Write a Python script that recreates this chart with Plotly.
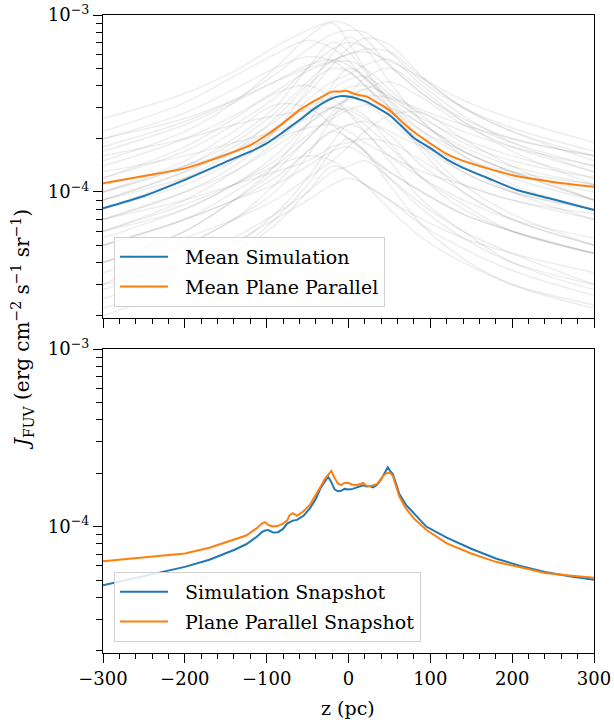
import plotly.graph_objects as go

# ---------------- data (J in units of 1e-5 erg cm^-2 s^-1 sr^-1) ----------------
UNIT = 1e-5

mean_z = [-300, -250, -200, -150, -120, -100, -80, -60, -40, -20, -10, -3, 5, 12, 22,
          35, 50, 65, 80, 100, 120, 140, 170, 205, 250, 300]
mean_sim = [8.1, 9.5, 11.7, 14.8, 16.9, 18.8, 21.8, 25.5, 30.0, 33.8, 34.8, 34.8, 34.3,
            33.5, 32.3, 30.0, 27.2, 23.5, 20.2, 17.7, 15.3, 13.7, 12.0, 10.3, 9.1, 7.9]
mean_pp = [11.2, 12.3, 13.6, 16.2, 18.4, 21.0, 24.5, 29.0, 33.0, 36.9, 37.0, 37.3, 36.2,
           35.3, 34.6, 32.0, 29.0, 25.0, 21.8, 18.8, 16.4, 15.0, 13.6, 12.3, 11.4, 10.7]

# individual sightlines (grey background curves)
grey_z = [-300, -200, -140, -90, -50, -20, 0, 20, 50, 90, 140, 200, 300]
g01 = [26, 36, 48, 66, 82, 92, 88, 74, 52, 36, 26, 20, 16]
g02 = [18, 25, 33, 46, 64, 78, 82, 80, 62, 42, 30, 23, 17]
g03 = [22, 32, 45, 60, 72, 65, 55, 44, 33, 24, 18, 14, 11]
g04 = [10, 14, 19, 28, 42, 55, 60, 64, 62, 44, 30, 22, 16]
g05 = [14, 20, 27, 37, 48, 54, 55, 50, 38, 27, 19, 15, 12]
g06 = [8, 12, 17, 26, 40, 50, 48, 40, 28, 19, 13, 10, 8]
g07 = [6, 9, 13, 19, 28, 38, 43, 45, 36, 25, 17, 13, 9]
g08 = [12, 18, 26, 36, 40, 34, 28, 22, 16, 12, 9, 7, 5.5]
g09 = [7, 10, 13, 18, 24, 30, 34, 38, 42, 34, 24, 18, 13]
g10 = [9, 13, 17, 23, 30, 34, 35, 32, 25, 18, 13, 10, 8]
g11 = [4, 6, 9, 13, 20, 27, 30, 27, 19, 12, 8, 6, 4.5]
g12 = [16, 20, 24, 27, 29, 30, 29, 26, 22, 18, 15, 13, 11]
g13 = [5, 7, 9, 12, 17, 22, 24, 25, 21, 14, 10, 7, 5]
g14 = [3, 5, 7, 11, 17, 22, 20, 17, 12, 8, 5.5, 4, 3]
g15 = [7, 9, 11, 13, 15, 18, 19, 20, 19, 15, 11, 9, 7]
g16 = [5, 7, 9, 11, 14, 17, 18, 16, 13, 10, 7.5, 6, 4.5]
g17 = [3, 4, 5.5, 7.5, 10, 13, 14, 15, 12, 8.5, 6, 4.5, 3]
g18 = [2.2, 3.2, 4.5, 6.5, 10, 14, 13, 11, 8, 5.5, 4, 3, 2.3]
g19 = [20, 28, 38, 50, 58, 55, 48, 40, 30, 22, 17, 13, 10]
g20 = [9, 13, 18, 25, 36, 52, 65, 74, 68, 45, 30, 22, 15]
g21 = [4, 5.5, 7, 9, 12, 15, 18, 22, 27, 28, 20, 14, 9]
g22 = [10, 15, 22, 31, 30, 24, 20, 17, 13, 10, 7.5, 6, 4.5]
g23 = [2.8, 4, 5.2, 7, 9, 11, 12, 11, 9, 6.5, 4.8, 3.6, 2.6]
g24 = [9, 12, 15, 20, 27, 35, 39, 40, 35, 29, 24, 20, 16]
g25 = [5, 7, 10, 14, 20, 28, 35, 44, 50, 38, 25, 17, 11]
g26 = [11, 14, 17, 20, 23, 24, 22, 19, 16, 13, 11, 9, 7.5]
g27 = [2, 3, 4.5, 7, 11, 17, 20, 17, 11, 6.5, 4.2, 3, 2.2]
g28 = [13, 16, 19, 22, 26, 30, 33, 35, 34, 28, 22, 18, 14]
g29 = [6, 8.5, 11, 14, 16, 15, 13, 11, 9, 7, 5.5, 4.5, 3.5]
g30 = [15, 22, 32, 50, 75, 90, 70, 50, 33, 22, 16, 12, 9]
g31 = [7, 10, 14, 22, 38, 60, 75, 65, 42, 25, 16, 11, 8]
g32 = [4, 6, 9, 14, 24, 40, 50, 45, 30, 17, 10, 7, 5]
g33 = [10, 14, 20, 30, 50, 70, 62, 48, 32, 20, 14, 10, 7]
g34 = [3.5, 5, 7, 10, 16, 26, 34, 38, 30, 18, 11, 7.5, 5]
g35 = [8, 11, 15, 22, 33, 42, 46, 52, 56, 40, 27, 19, 13]
g36 = [5.5, 8, 11, 16, 24, 30, 28, 24, 18, 12, 8.5, 6, 4.5]
g37 = [17, 24, 32, 42, 52, 56, 52, 44, 34, 26, 20, 16, 12]
g38 = [2.5, 3.5, 5, 7.5, 12, 19, 24, 22, 15, 9, 6, 4, 2.8]
g39 = [12, 17, 24, 34, 50, 64, 70, 66, 52, 36, 25, 19, 14]
g40 = [6, 8, 11, 15, 21, 26, 29, 31, 30, 24, 17, 13, 9]
g41 = [20, 26, 33, 42, 50, 55, 60, 62, 55, 44, 33, 26, 19]
grey_curves = [g01, g02, g03, g04, g05, g06, g07, g08, g09, g10, g11, g12, g13, g14, g15,
               g16, g17, g18, g19, g20, g21, g22, g23, g24, g25, g26, g27, g28, g29, g30,
               g31, g32, g33, g34, g35, g36, g37, g38, g39, g40, g41]

snap_z = [-300, -250, -200, -170, -140, -125, -112, -106, -102, -98, -92, -86, -80, -75,
          -72, -68, -63, -55, -47, -40, -34, -29, -25, -21, -17, -13, -9, -5, 0, 5, 10,
          14, 18, 22, 26, 30, 35, 40, 44, 48, 51, 54, 58, 62, 70, 80, 95, 120, 150, 180,
          210, 240, 270, 300]
snap_sim = [4.67, 5.25, 5.93, 6.5, 7.38, 7.95, 8.77, 9.3, 9.5, 9.55, 9.25, 9.3, 9.7, 10.4,
            10.6, 10.8, 10.9, 11.5, 12.7, 14.3, 16.5, 17.8, 19.1, 17.8, 16.2, 15.8, 15.9,
            16.3, 16.2, 16.3, 16.6, 17.0, 17.1, 16.8, 16.9, 16.6, 17.2, 18.5, 20.0, 21.6,
            20.5, 19.8, 17.5, 15.3, 13.3, 11.8, 10.0, 8.67, 7.5, 6.61, 6.0, 5.55, 5.25, 5.02]
snap_pp = [6.38, 6.7, 7.05, 7.6, 8.39, 8.9, 9.8, 10.4, 10.6, 10.2, 10.0, 10.1, 10.4, 10.8,
           11.6, 11.9, 11.5, 12.2, 13.3, 15.0, 16.8, 18.5, 19.6, 20.6, 18.8, 17.5, 17.1,
           17.6, 17.6, 17.2, 17.1, 17.3, 17.6, 17.0, 16.9, 17.1, 17.4, 18.6, 19.6, 20.1,
           20.0, 19.4, 17.0, 14.8, 12.7, 11.1, 9.6, 8.04, 7.05, 6.33, 5.9, 5.48, 5.3, 5.15]

major_y = [1e-4, 1e-3]
major_y_text = ["10<sup>−4</sup>", "10<sup>−3</sup>"]
minor_y = [m * 1e-5 for m in range(2, 10)] + [m * 1e-4 for m in range(2, 10)]
x_ticks = [-300, -200, -100, 0, 100, 200, 300]
x_tick_text = ["−300", "−200", "−100", "0", "100", "200", "300"]

# ---------------- figure ----------------
BLUE = "#1f77b4"
ORANGE = "#ff7f0e"
FONT = "DejaVu Serif"
PAD = "\u00a0\u00a0"

fig = go.Figure()

def scale(vals):
    return [v * UNIT for v in vals]

for g in grey_curves:
    fig.add_trace(go.Scatter(x=grey_z, y=scale(g), mode="lines",
                             line=dict(color="rgba(128,128,128,0.14)", width=1.5,
                                       shape="spline", smoothing=1.0),
                             showlegend=False, hoverinfo="skip", xaxis="x", yaxis="y"))

fig.add_trace(go.Scatter(x=mean_z, y=scale(mean_sim), mode="lines", name=PAD + "Mean Simulation",
                         line=dict(color=BLUE, width=2, shape="spline", smoothing=0.6),
                         xaxis="x", yaxis="y", legend="legend", legendgroup="a"))
fig.add_trace(go.Scatter(x=mean_z, y=scale(mean_pp), mode="lines", name=PAD + "Mean Plane Parallel",
                         line=dict(color=ORANGE, width=2, shape="spline", smoothing=0.6),
                         xaxis="x", yaxis="y", legend="legend", legendgroup="b"))

fig.add_trace(go.Scatter(x=snap_z, y=scale(snap_sim), mode="lines", name=PAD + "Simulation Snapshot",
                         line=dict(color=BLUE, width=2),
                         xaxis="x2", yaxis="y2", legend="legend2", legendgroup="c"))
fig.add_trace(go.Scatter(x=snap_z, y=scale(snap_pp), mode="lines", name=PAD + "Plane Parallel Snapshot",
                         line=dict(color=ORANGE, width=2),
                         xaxis="x2", yaxis="y2", legend="legend2", legendgroup="d"))

W, H = 614, 724
ML, MR, MT, MB = 103, 20, 15, 71
ph = H - MT - MB
pw = W - ML - MR

def ydom(top_px, bot_px):
    return [(H - MB - bot_px) / ph, (H - MB - top_px) / ph]

common_x = dict(range=[-300, 300], showline=True, linecolor="black", linewidth=1.2,
                mirror=True, ticks="outside", ticklen=9, tickwidth=1.2, tickcolor="black",
                tickvals=x_ticks, showgrid=False, zeroline=False, automargin=False,
                minor=dict(ticks="outside", ticklen=5, tickwidth=1, tickcolor="black",
                           dtick=20, tick0=0, showgrid=False))
common_y = dict(type="log", range=[-4.712, -3], showline=True, linecolor="black",
                linewidth=1.2, mirror=True, ticks="outside", ticklen=9, tickwidth=1.2,
                tickcolor="black", tickvals=major_y, ticktext=major_y_text, showgrid=False,
                zeroline=False, automargin=False,
                minor=dict(ticks="outside", ticklen=6, tickwidth=1, tickcolor="black",
                           tickvals=minor_y, showgrid=False))

legend_common = dict(xanchor="left", yanchor="bottom", bgcolor="rgba(255,255,255,0.85)",
                     bordercolor="#d0d0d0", borderwidth=1, font=dict(size=19),
                     tracegroupgap=2, itemwidth=48)

fig.update_layout(
    width=W, height=H,
    margin=dict(l=ML, r=MR, t=MT, b=MB, autoexpand=False),
    paper_bgcolor="white", plot_bgcolor="white",
    font=dict(family=FONT, size=18, color="black"),
    xaxis=dict(**common_x, domain=[0, 1], anchor="y", showticklabels=False),
    yaxis=dict(**common_y, domain=ydom(15, 318), anchor="x"),
    xaxis2=dict(**common_x, domain=[0, 1], anchor="y2", ticktext=x_tick_text,
                showticklabels=True),
    yaxis2=dict(**common_y, domain=ydom(349, 653), anchor="x2"),
    legend=dict(**legend_common, x=(114 - ML) / pw, y=(H - MB - 307) / ph),
    legend2=dict(**legend_common, x=(114 - ML) / pw, y=(H - MB - 642) / ph),
    annotations=[
        dict(text="<i>J</i><sub>FUV</sub> (erg cm<sup>−2</sup> s<sup>−1</sup> sr<sup>−1</sup>)",
             xref="paper", yref="paper", x=(22 - ML) / pw, y=(H - MB - 330) / ph,
             xanchor="center", yanchor="middle", textangle=-90, showarrow=False,
             font=dict(size=20)),
        dict(text="z (pc)", xref="paper", yref="paper", x=(348 - ML) / pw,
             y=(H - MB - 708) / ph, xanchor="center", yanchor="middle",
             showarrow=False, font=dict(size=19)),
    ],
)

fig.write_html("out.html", config={"displayModeBar": False},
               post_script="document.body.style.margin='0';"
                           "document.body.style.overflow='hidden';")
